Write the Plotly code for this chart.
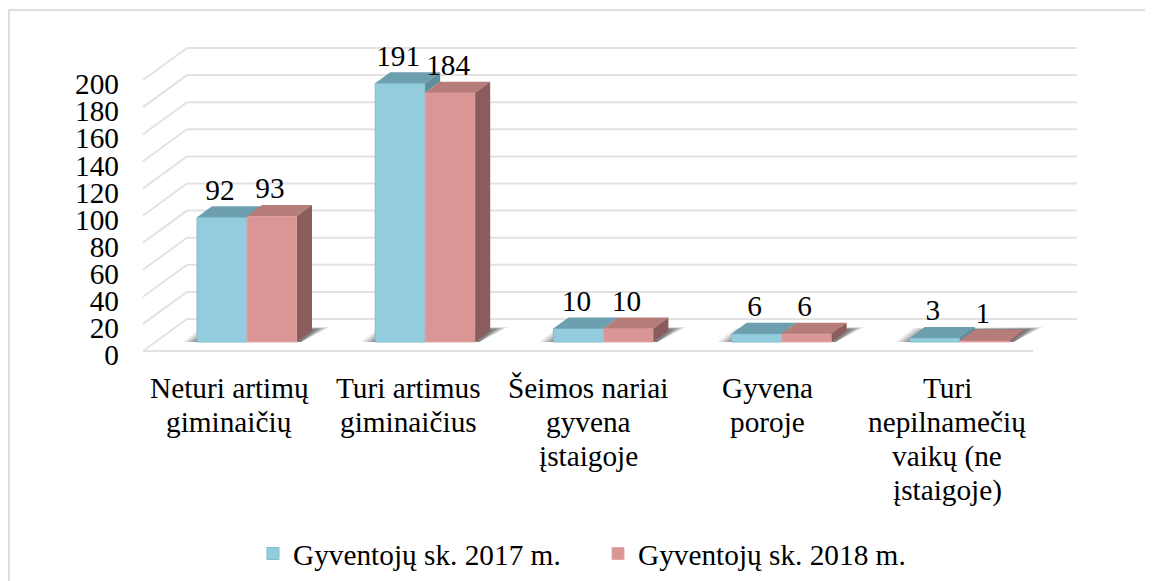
import plotly.graph_objects as go

categories = [
    ["Neturi artimų", "giminaičių"],
    ["Turi artimus", "giminaičius"],
    ["Šeimos nariai", "gyvena", "įstaigoje"],
    ["Gyvena", "poroje"],
    ["Turi", "nepilnamečių", "vaikų (ne", "įstaigoje)"],
]
series_2017 = [92, 191, 10, 6, 3]
series_2018 = [93, 184, 10, 6, 1]
name_2017 = "Gyventojų sk. 2017 m."
name_2018 = "Gyventojų sk. 2018 m."
y_ticks = [0, 20, 40, 60, 80, 100, 120, 140, 160, 180, 200]

FONT = "Liberation Serif"
FS = 29.3
W, H = 1153, 581
PAGE = 8              # the page's own margin in front of the figure
PX_X = 178.2          # pixels per category
PX_Y = 1.355          # pixels per value unit
X0_PX = 247 - PAGE    # pixel of first category group centre (bar plane)
Y0_PX = 342 - PAGE    # pixel of value 0 (bar plane)
BAR_W = 50 / PX_X


def dx(px):
    return px / PX_X


def dy(px):
    return px / PX_Y


xs = list(range(len(series_2017)))
x_range = [-X0_PX / PX_X, (W - X0_PX) / PX_X]
y_range = [-(H - Y0_PX) / PX_Y, Y0_PX / PX_Y]

shapes = []
GRID = "#E2E2E2"
FRONT_X, FRONT_Y = dx(-104), dy(-9)
BACK_X, BACK_Y = dx(-60), dy(23)
FRONT_END = dx(786)
BACK_END = dx(830)
for t in y_ticks:
    shapes.append(dict(type="line", layer="below", xref="x", yref="y",
                       x0=BACK_X, x1=BACK_END, y0=t + BACK_Y, y1=t + BACK_Y,
                       line=dict(color=GRID, width=2)))
    shapes.append(dict(type="line", layer="below", xref="x", yref="y",
                       x0=FRONT_X, x1=BACK_X, y0=t + FRONT_Y, y1=t + BACK_Y,
                       line=dict(color=GRID, width=2)))
shapes.append(dict(type="line", layer="below", xref="x", yref="y",
                   x0=FRONT_X, x1=FRONT_END, y0=FRONT_Y, y1=FRONT_Y,
                   line=dict(color=GRID, width=2)))

# soft floor shadows: outer layers are faint, inner ones build up the dark core
SHADOW_LAYERS = [(0, 0.10), (3, 0.13), (6, 0.16), (9, 0.20), (12, 0.25)]
for x in xs:
    for inset, op in SHADOW_LAYERS:
        pts = [
            (x + dx(-64 + inset), dy(0)),
            (x + dx(-46 + inset), dy(14 - inset * 0.15)),
            (x + dx(83 - inset), dy(15 - inset * 0.15)),
            (x + dx(54), dy(0)),
        ]
        path = "M " + " L ".join(f"{a:.4f},{b:.3f}" for a, b in pts) + " Z"
        shapes.append(dict(type="path", layer="below", xref="x", yref="y",
                           path=path, line=dict(width=0),
                           fillcolor=f"rgba(50,50,50,{op})"))

# chart frame: left and top edges only
shapes.append(dict(type="path", layer="below", xref="paper", yref="paper",
                   path=f"M {1 / W:.5f},0 L {1 / W:.5f},{1 - 2 / H:.5f} L 1,{1 - 2 / H:.5f}",
                   line=dict(color="#DEDEDE", width=2)))

fig = go.Figure()
fig.add_trace(go.Bar(x=xs, y=series_2017, name=name_2017,
                     marker=dict(color="#93CDDD", line=dict(color="#7FBCCD", width=1))))
fig.add_trace(go.Bar(x=xs, y=series_2018, name=name_2018,
                     marker=dict(color="#D99694", line=dict(color="#E3A9A7", width=1))))


def face(px, py, color):
    fig.add_trace(go.Scatter(x=px, y=py, mode="lines", fill="toself", fillcolor=color,
                             line=dict(width=0, color=color), hoverinfo="skip",
                             showlegend=False))


DX, DY = dx(15), dy(11)
for i, (a, b) in enumerate(zip(series_2017, series_2018)):
    l, m, r = i - BAR_W, i, i + BAR_W
    face([l, m, m + DX, l + DX, l], [a, a, a + DY, a + DY, a], "#6E9FAF")
    if a > b:
        face([m, m + DX, m + DX, m, m], [a, a + DY, b + DY, b, a], "#5F8E9C")
    face([m, r, r + DX, m + DX, m], [b, b, b + DY, b + DY, b], "#B57C7A")
    face([r, r + DX, r + DX, r, r], [b, b + DY, DY, 0, b], "#8B5C5C")

# data labels
LABEL = dy(25)
LABEL_DX = dx(-2)
fig.add_trace(go.Scatter(
    x=[i - BAR_W / 2 + LABEL_DX for i in xs] + [i + BAR_W / 2 + LABEL_DX for i in xs],
    y=[v + LABEL for v in series_2017] + [v + LABEL for v in series_2018],
    text=[str(v) for v in series_2017] + [str(v) for v in series_2018],
    mode="text", textposition="middle center", showlegend=False, hoverinfo="skip",
    textfont=dict(family=FONT, size=FS, color="#000"),
    cliponaxis=False,
))

annotations = []
LINE_H = 34
for i, lines in enumerate(categories):
    for j, line in enumerate(lines):
        annotations.append(dict(
            x=i, xref="x", xshift=-18 + 1.3 * i,
            y=1 - (380 + j * LINE_H) / H, yref="paper",
            text=line, showarrow=False, xanchor="center", yanchor="middle",
            font=dict(family=FONT, size=FS, color="#000"),
        ))

fig.update_layout(
    width=W, height=H, autosize=False,
    margin=dict(l=0, r=0, t=0, b=0),
    paper_bgcolor="#FFFFFF", plot_bgcolor="rgba(0,0,0,0)",
    barmode="group", bargap=1 - 2 * BAR_W, bargroupgap=0,
    shapes=shapes, annotations=annotations,
    font=dict(family=FONT, size=FS, color="#000"),
    xaxis=dict(range=x_range, domain=[0, 1], visible=False, fixedrange=True),
    yaxis=dict(range=y_range, domain=[0, 1], visible=False, fixedrange=True),
    yaxis2=dict(overlaying="y", anchor="free", position=111 / W, side="left",
                range=[-(H - 347) / PX_Y, 347 / PX_Y], showgrid=False, zeroline=False,
                showline=False, ticks="", tickmode="array", tickvals=y_ticks,
                ticktext=[str(t) for t in y_ticks],
                tickfont=dict(family=FONT, size=FS, color="#000"), fixedrange=True),
    legend=dict(orientation="h", x=245 / W, y=1 - 520 / H, xanchor="left", yanchor="top",
                entrywidth=300, entrywidthmode="pixels", itemwidth=30, traceorder="normal",
                font=dict(family=FONT, size=FS, color="#000"), bgcolor="rgba(0,0,0,0)"),
    showlegend=True,
)
fig.add_trace(go.Scatter(x=[0], y=[0], yaxis="y2", mode="markers", marker=dict(opacity=0),
                         showlegend=False, hoverinfo="skip"))

fig.write_html("out.html", config={"displayModeBar": False})
